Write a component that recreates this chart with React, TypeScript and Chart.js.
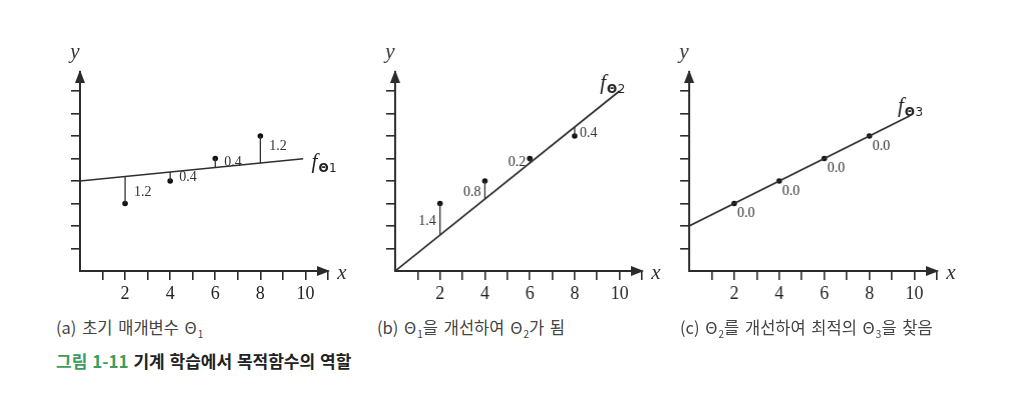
import React, { useEffect, useRef } from "react";
import { Chart, registerables } from "chart.js";

Chart.register(...registerables);

// ---- data ----
const xPoints = [2, 4, 6, 8];
const yPoints = [3, 4, 5, 6];

const fittedA = [4.2, 4.4, 4.6, 4.8];
const fittedB = [1.6, 3.2, 4.8, 6.4];
const fittedC = [3.0, 4.0, 5.0, 6.0];

const residualLabelsA = ["1.2", "0.4", "0.4", "1.2"];
const residualLabelsB = ["1.4", "0.8", "0.2", "0.4"];
const residualLabelsC = ["0.0", "0.0", "0.0", "0.0"];

const lineAX = [0, 9.9];
const lineAY = [4.0, 4.99];
const lineBX = [0, 10];
const lineBY = [0, 8];
const lineCX = [0, 9.8];
const lineCY = [2.0, 6.9];

const xTickLabels = ["2", "4", "6", "8", "10"];
const xMax = 11;
const yMax = 8.85;

const AXIS = "#2b2b2b";
const SERIF = '"Liberation Serif", "DejaVu Serif", serif';
const KR = '"Noto Sans CJK KR", "Noto Sans", sans-serif';

type Panel = {
  originX: number;
  ux: number;
  fitted: number[];
  lineX: number[];
  lineY: number[];
  labels: string[];
  sides: string[];
  dx: number;
  t: number;
  dy: number;
  fSub: string;
  fPos: number[];
};

const panels: Panel[] = [
  {
    originX: 80, ux: 22.55, fitted: fittedA, lineX: lineAX, lineY: lineAY,
    labels: residualLabelsA, sides: ["right", "right", "right", "right"],
    dx: 9, t: 0.4, dy: 0, fSub: "1", fPos: [10.27, 4.58],
  },
  {
    originX: 395, ux: 22.45, fitted: fittedB, lineX: lineBX, lineY: lineBY,
    labels: residualLabelsB, sides: ["left", "left", "left", "right"],
    dx: 4, t: 0.5, dy: 2, fSub: "2", fPos: [9.13, 8.09],
  },
  {
    originX: 689, ux: 22.5, fitted: fittedC, lineX: lineCX, lineY: lineCY,
    labels: residualLabelsC, sides: ["right", "right", "right", "right"],
    dx: 3, t: 0, dy: 10, fSub: "3", fPos: [9.26, 7.07],
  },
];

const CANVAS_TOP = 40;
const AXIS_Y = 271;
const CANVAS_H = 265;
const LEFT_SPACE = 40;
const RIGHT_SPACE = 26;

const overlayPlugin = {
  id: "overlay",
  afterDraw(chart: any, _args: any, opts: any) {
    const p: Panel = opts.panel;
    const { ctx, chartArea, scales } = chart;
    const xs = scales.x;
    const ys = scales.y;
    const ox = chartArea.left;
    const oy = chartArea.bottom;
    const xr = chartArea.right;
    const yt = chartArea.top;
    ctx.save();
    ctx.fillStyle = AXIS;
    // arrow heads
    ctx.beginPath();
    ctx.moveTo(xr + 2, oy);
    ctx.lineTo(xr - 11, oy - 5);
    ctx.lineTo(xr - 11, oy + 5);
    ctx.closePath();
    ctx.fill();
    ctx.beginPath();
    ctx.moveTo(ox, yt - 2);
    ctx.lineTo(ox - 5, yt + 11);
    ctx.lineTo(ox + 5, yt + 11);
    ctx.closePath();
    ctx.fill();

    // axis names
    ctx.font = `italic 21px ${SERIF}`;
    ctx.textAlign = "center";
    ctx.textBaseline = "middle";
    ctx.fillStyle = "#333";
    ctx.fillText("x", xr + 14, oy + 2);
    ctx.fillText("y", ox - 5, yt - 19);

    // residual labels
    ctx.font = `14px ${SERIF}`;
    ctx.fillStyle = "#333";
    ctx.textBaseline = "middle";
    xPoints.forEach((xv, i) => {
      const yv = yPoints[i] + p.t * (p.fitted[i] - yPoints[i]);
      const px = xs.getPixelForValue(xv);
      const py = ys.getPixelForValue(yv) + p.dy;
      if (p.sides[i] === "left") {
        ctx.textAlign = "right";
        ctx.fillText(p.labels[i], px - p.dx, py);
      } else {
        ctx.textAlign = "left";
        ctx.fillText(p.labels[i], px + (i === 3 && p.sides[0] === "left" ? 5 : p.dx), py);
      }
    });

    // function label f_Θn
    const fx = xs.getPixelForValue(p.fPos[0]);
    const fy = ys.getPixelForValue(p.fPos[1]);
    ctx.textAlign = "left";
    ctx.textBaseline = "alphabetic";
    ctx.fillStyle = "#222";
    ctx.font = `italic 21px ${SERIF}`;
    ctx.fillText("f", fx, fy);
    const fw = ctx.measureText("f").width;
    ctx.font = `bold 12px "DejaVu Sans", sans-serif`;
    ctx.fillText("Θ", fx + fw + 1, fy + 4);
    const tw = ctx.measureText("Θ").width;
    ctx.font = `12px "DejaVu Sans", sans-serif`;
    ctx.fillText(p.fSub, fx + fw + 1 + tw + 0.5, fy + 4);
    ctx.restore();
  },
};

function PanelChart({ panel }: { panel: Panel }) {
  const ref = useRef<HTMLCanvasElement | null>(null);
  const areaW = xMax * panel.ux;
  const width = LEFT_SPACE + areaW + RIGHT_SPACE;
  const chartTop = AXIS_Y - CANVAS_TOP - yMax * 22.5;

  useEffect(() => {
    if (!ref.current) return;
    const residualSets = xPoints.map((xv, i) => ({
      data: [
        { x: xv, y: yPoints[i] },
        { x: xv, y: panel.fitted[i] },
      ],
      showLine: true,
      borderColor: "#333",
      borderWidth: 1.3,
      pointRadius: 0,
    }));
    const chart = new Chart(ref.current, {
      type: "scatter",
      data: {
        datasets: [
          {
            data: panel.lineX.map((xv, i) => ({ x: xv, y: panel.lineY[i] })),
            showLine: true,
            borderColor: "#2e2e2e",
            borderWidth: 1.7,
            pointRadius: 0,
          },
          ...residualSets,
          {
            data: xPoints.map((xv, i) => ({ x: xv, y: yPoints[i] })),
            pointRadius: 2.8,
            pointBackgroundColor: "#111",
            pointBorderWidth: 0,
            showLine: false,
          },
        ],
      },
      options: {
        animation: false,
        responsive: false,
        maintainAspectRatio: false,
        layout: { padding: { left: 0, top: chartTop, right: RIGHT_SPACE, bottom: 0 } },
        plugins: {
          legend: { display: false },
          tooltip: { enabled: false },
          overlay: { panel },
        } as any,
        scales: {
          x: {
            type: "linear",
            min: 0,
            max: xMax,
            border: { display: true, color: AXIS, width: 2 },
            grid: {
              drawOnChartArea: false,
              drawTicks: true,
              tickLength: 9,
              lineWidth: 1.6,
              color: (c: any) => (c.tick && c.tick.value === 0 ? "rgba(0,0,0,0)" : AXIS),
            },
            ticks: {
              stepSize: 1,
              includeBounds: false,
              autoSkip: false,
              maxRotation: 0,
              padding: 3,
              color: "#222",
              font: { family: SERIF, size: 18 },
              callback: (v: any) => {
                const s = String(v);
                return xTickLabels.includes(s) ? s : "";
              },
            },
            afterFit: (s: any) => {
              s.height = CANVAS_H - (AXIS_Y - CANVAS_TOP);
            },
          },
          y: {
            type: "linear",
            min: 0,
            max: yMax,
            border: { display: true, color: AXIS, width: 2 },
            grid: {
              drawOnChartArea: false,
              drawTicks: true,
              tickLength: 9,
              lineWidth: 1.6,
              color: (c: any) => (c.tick && c.tick.value === 0 ? "rgba(0,0,0,0)" : AXIS),
            },
            ticks: { stepSize: 1, includeBounds: false, display: false },
            afterFit: (s: any) => {
              s.width = LEFT_SPACE;
            },
          },
        },
      },
      plugins: [overlayPlugin],
    } as any);
    return () => chart.destroy();
  }, [panel]);

  return (
    <canvas
      ref={ref}
      width={width}
      height={CANVAS_H}
      style={{
        position: "absolute",
        left: panel.originX - LEFT_SPACE,
        top: CANVAS_TOP,
        width,
        height: CANVAS_H,
      }}
    />
  );
}

const subStyle: React.CSSProperties = { fontSize: 10, position: "relative", top: 4, marginLeft: 1 };

export default function App() {
  const cap: React.CSSProperties = {
    position: "absolute",
    top: 318,
    font: `16.5px ${KR}`,
    lineHeight: "18px",
    color: "#444",
    whiteSpace: "nowrap",
    wordSpacing: 2,
  };
  return (
    <div
      style={{
        position: "absolute",
        left: 0,
        top: 0,
        width: 1018,
        height: 402,
        background: "#fff",
        overflow: "hidden",
      }}
    >
      {panels.map((p, i) => (
        <PanelChart key={i} panel={p} />
      ))}
      <div style={{ ...cap, left: 56 }}>
        (a) 초기 매개변수 Θ<span style={subStyle}>1</span>
      </div>
      <div style={{ ...cap, left: 377 }}>
        (b) Θ<span style={subStyle}>1</span>을 개선하여 Θ<span style={subStyle}>2</span>가 됨
      </div>
      <div style={{ ...cap, left: 680 }}>
        (c) Θ<span style={subStyle}>2</span>를 개선하여 최적의 Θ<span style={subStyle}>3</span>을 찾음
      </div>
      <div
        style={{
          position: "absolute",
          left: 56,
          top: 351,
          font: `bold 17px ${KR}`,
          lineHeight: "19px",
          color: "#222",
          whiteSpace: "nowrap",
          wordSpacing: 1,
        }}
      >
        <span style={{ color: "#3d9b5e" }}>그림 1-11</span> 기계 학습에서 목적함수의 역할
      </div>
    </div>
  );
}
